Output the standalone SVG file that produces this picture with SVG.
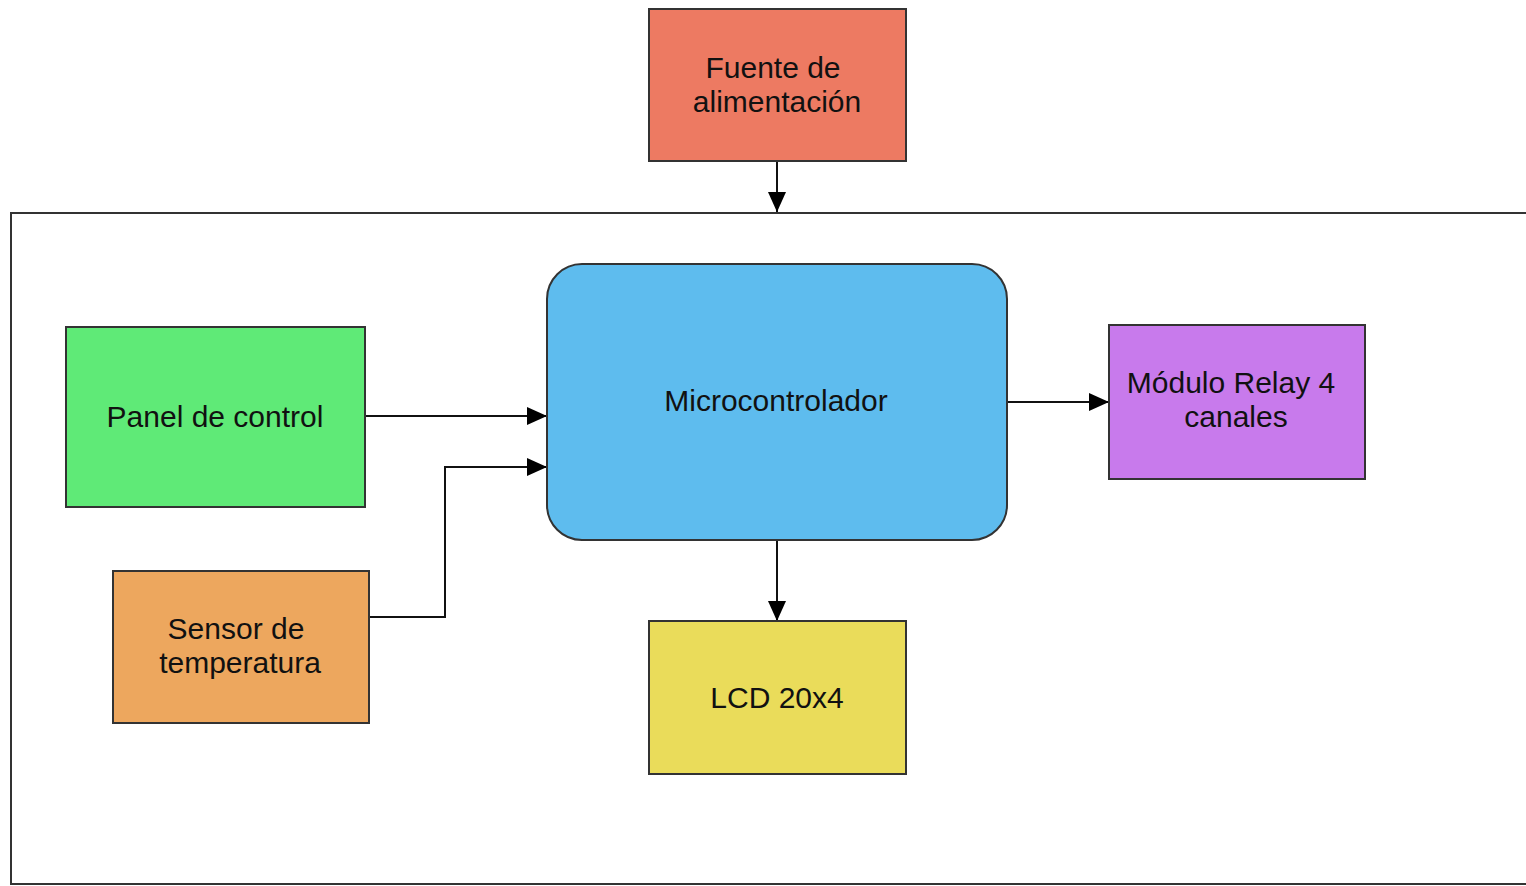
<svg xmlns="http://www.w3.org/2000/svg" width="1526" height="886" viewBox="0 0 1526 886">
<style>
.box{stroke:#333;stroke-width:2}
.lbl{font-family:"Liberation Sans",Arial,sans-serif;font-size:30px;fill:#111;text-anchor:middle}
.con{fill:none;stroke:#111;stroke-width:2}
</style>
<defs>
<marker id="arr" viewBox="0 0 20 18" refX="20" refY="9" markerWidth="20" markerHeight="18" markerUnits="userSpaceOnUse" orient="auto">
<path d="M0,0 L20,9 L0,18 Z" fill="#000"/>
</marker>
</defs>
<rect width="1526" height="886" fill="#fff"/>
<g id="container">
<rect x="11" y="213" width="1530" height="671" fill="none" stroke="#333" stroke-width="2"/>
</g>
<g id="connectors">
<path class="con" d="M777,161 L777,212" marker-end="url(#arr)"/>
<path class="con" d="M365,416 L547,416" marker-end="url(#arr)"/>
<path class="con" d="M369,617 L445,617 L445,467 L547,467" marker-end="url(#arr)"/>
<path class="con" d="M1007,402 L1109,402" marker-end="url(#arr)"/>
<path class="con" d="M777,540 L777,621" marker-end="url(#arr)"/>
</g>
<g id="fuente">
<rect class="box" x="649" y="9" width="257" height="152" fill="#ED7A62"/>
<text class="lbl" x="773" y="78">Fuente de</text>
<text class="lbl" x="777" y="112">alimentación</text>
</g>
<g id="micro">
<rect class="box" x="547" y="264" width="460" height="276" rx="35" ry="35" fill="#5EBCEE"/>
<text class="lbl" x="776" y="411">Microcontrolador</text>
</g>
<g id="panel">
<rect class="box" x="66" y="327" width="299" height="180" fill="#5FEA77"/>
<text class="lbl" x="215" y="427">Panel de control</text>
</g>
<g id="relay">
<rect class="box" x="1109" y="325" width="256" height="154" fill="#C87AEC"/>
<text class="lbl" x="1231" y="393">Módulo Relay 4</text>
<text class="lbl" x="1236" y="427">canales</text>
</g>
<g id="sensor">
<rect class="box" x="113" y="571" width="256" height="152" fill="#EDA75E"/>
<text class="lbl" x="236" y="639">Sensor de</text>
<text class="lbl" x="240" y="673">temperatura</text>
</g>
<g id="lcd">
<rect class="box" x="649" y="621" width="257" height="153" fill="#EADC5A"/>
<text class="lbl" x="777" y="708">LCD 20x4</text>
</g>
</svg>
